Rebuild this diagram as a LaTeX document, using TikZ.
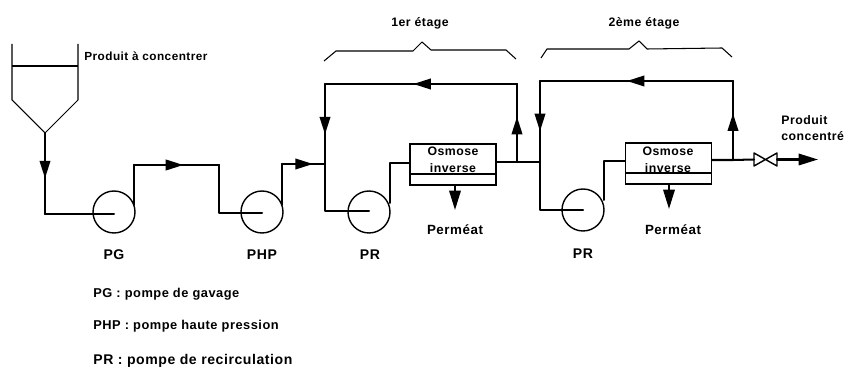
\documentclass[tikz,border=0pt]{standalone}
\usepackage{fontspec}
\setmainfont{Liberation Sans}[LetterSpace=4]
\usetikzlibrary{arrows.meta,decorations.markings}
\tikzset{
	pipe/.style={line width=1.15pt,line cap=round,line join=round},
	thinline/.style={line width=.6pt,line join=round},
	pump/.style={draw,circle,line width=.8pt,minimum size=.84cm,inner sep=0pt},
	osmose/.style={draw,rectangle,line width=.8pt,minimum width=1.72cm,minimum height=.82cm,inner sep=0pt},
	txt/.style={inner sep=0pt,font=\fontsize{7}{9.5}\selectfont\bfseries,align=left},
	legtxt/.style={txt,font=\fontsize{8}{9.5}\selectfont\bfseries},
	tip/.style={-{Triangle[length=11pt,width=6.5pt]}},
	flow/.style={postaction={decorate},decoration={markings,mark=at position #1 with {\arrow{Triangle[length=10pt,width=6pt]}}}}
}
\begin{document}
\begin{tikzpicture}[x=0.02cm,y=-0.02cm]
	\useasboundingbox (0,0) rectangle (848,367);
	% equipment
	\node[pump] (pg) at (114,212) {};
	\node[pump] (php) at (262,212) {};
	\node[pump] (pra) at (369,212) {};
	\node[pump] (prb) at (583,210) {};
	\node[osmose] (osma) at (453,164.5) {};
	\node[osmose] (osmb) at (668.5,163.5) {};
	\coordinate (tankout) at (45,133);
	\draw[thinline] (12,44)--(12,100)--(tankout)--(78,100)--(78,44);
	\draw[thinline] (12,66)--(78,66);
	\draw[thinline] (osma.west|-0,174)--(osma.east|-0,174);
	\draw[thinline] (osmb.west|-0,173)--(osmb.east|-0,173);
	% line up to the first stage
	\coordinate (a1) at (45,214);
	\coordinate (a2) at (134,205);
	\coordinate (a3) at (134,165);
	\coordinate (a4) at (219,165);
	\coordinate (a5) at (219,213);
	\coordinate (a6) at (282,205);
	\coordinate (a7) at (282,164);
	\coordinate (ja) at (325,164);
	\draw[pipe,flow=.56] (tankout)--(a1);
	\draw[pipe] (a1)--(pg.center|-a1);
	\draw[pipe] (a2)--(a3);
	\draw[pipe,flow=.58] (a3)--(a4);
	\draw[pipe] (a4)--(a5)--(php.center|-a5);
	\draw[pipe] (a6)--(a7);
	\draw[pipe,flow=.72] (a7)--(ja);
	% first stage
	\coordinate (b1) at (325,84);
	\coordinate (b2) at (517,84);
	\coordinate (sa) at (517,162);
	\coordinate (b3) at (325,211);
	\coordinate (b4) at (390,203);
	\coordinate (b5) at (390,163);
	\coordinate (jb) at (540,162);
	\draw[pipe] (ja)--(b3)--(pra.center|-b3);
	\draw[pipe] (b4)--(b5)--(osma.west|-b5);
	\draw[pipe] (osma.east|-sa)--(sa)--(jb);
	\draw[pipe,flow=.58] (sa)--(b2);
	\draw[pipe,flow=.54] (b2)--(b1);
	\draw[pipe,flow=.63] (b1)--(ja);
	% second stage
	\coordinate (c1) at (540,81);
	\coordinate (c2) at (733,81);
	\coordinate (sb) at (733,160);
	\coordinate (c3) at (540,210);
	\coordinate (c4) at (604,200);
	\coordinate (c5) at (604,161);
	\draw[pipe] (jb)--(c3)--(prb.center|-c3);
	\draw[pipe] (c4)--(c5)--(osmb.west|-c5);
	\draw[pipe,flow=.59] (sb)--(c2);
	\draw[pipe,flow=.55] (c2)--(c1);
	\draw[pipe,flow=.62] (c1)--(jb);
	% valve and outlet
	\coordinate (va) at (754,159.5);
	\coordinate (vb) at (777,159.5);
	\coordinate (vout) at (818,159.5);
	\draw[pipe] (osmb.east|-sb)--(sb)--(va);
	\draw[thinline,line width=.8pt] (754,153)--(777,166)--(777,153)--(754,166)--cycle;
	\draw[pipe,tip] (vb)--(vout);
	% permeate
	\coordinate (pa) at (455,210);
	\coordinate (pb) at (669,209);
	\draw[pipe,tip] (osma.south-|pa)--(pa);
	\draw[pipe,tip] (osmb.south-|pb)--(pb);
	% stage brackets
	\draw[thinline] (324,61)--(336,51)--(413,51)--(422,42)--(431,50)--(506,50)--(516,59);
	\draw[thinline] (541,58)--(547,49)--(629,49)--(639,41)--(647,49)--(722,48)--(732,57);
	% texts
	\node[txt,anchor=west,font=\fontsize{6.7}{9}\selectfont\bfseries] (tlabel) at (84,56) {Produit à concentrer};
	\node[txt] (stagea) at (420,23) {1er étage};
	\node[txt] (stageb) at (644,23) {2ème étage};
	\node[legtxt] (lpg) at (114,255) {PG};
	\node[legtxt] (lphp) at (262,255) {PHP};
	\node[legtxt] (lpra) at (370,255) {PR};
	\node[legtxt] (lprb) at (583,254) {PR};
	\node[txt,align=center] (ta) at (453,160) {Osmose\\inverse};
	\node[txt,align=center] (tb) at (668,160) {Osmose\\inverse};
	\node[legtxt,font=\fontsize{7.6}{9}\selectfont\bfseries] (perma) at (455,230) {Perméat};
	\node[legtxt,font=\fontsize{7.6}{9}\selectfont\bfseries] (permb) at (673,230) {Perméat};
	\node[txt,anchor=west] (prod) at (781,128) {Produit\\concentré};
	\node[legtxt,anchor=west,font=\fontsize{7.3}{9}\selectfont\bfseries] (lega) at (93,294) {PG : pompe de gavage};
	\node[legtxt,anchor=west,font=\fontsize{7.3}{9}\selectfont\bfseries] (legb) at (93,326) {PHP : pompe haute pression};
	\node[legtxt,anchor=west] (legc) at (93,361) {PR : pompe de recirculation};
\end{tikzpicture}
\end{document}
